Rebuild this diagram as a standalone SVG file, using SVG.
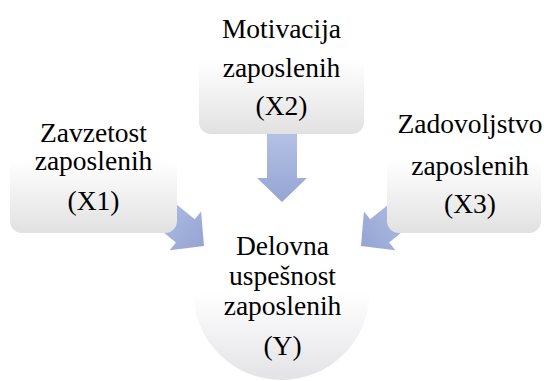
<svg xmlns="http://www.w3.org/2000/svg" width="544" height="381" viewBox="0 0 544 381">
<defs>
<linearGradient id="boxg" x1="0" y1="0" x2="0" y2="1">
<stop offset="0" stop-color="#ffffff"/>
<stop offset="0.45" stop-color="#ffffff"/>
<stop offset="1" stop-color="#e1e1e1"/>
</linearGradient>
<linearGradient id="circg" x1="0" y1="0" x2="0" y2="1">
<stop offset="0" stop-color="#ffffff"/>
<stop offset="0.5" stop-color="#ffffff"/>
<stop offset="1" stop-color="#e3e3e7"/>
</linearGradient>
<linearGradient id="arrg" x1="0" y1="0" x2="0" y2="1">
<stop offset="0" stop-color="#b3c1e6"/>
<stop offset="1" stop-color="#95a4d2"/>
</linearGradient>
<polygon id="arrow" points="-15,-68 15,-68 15,-24 25,-24 0,0 -25,-24 -15,-24"/>
</defs>
<style>
.box{fill:url(#boxg);}
.arr{fill:url(#arrg);}
.t{font-family:'Liberation Serif','Times New Roman',Times,serif;font-size:27.5px;fill:#000;text-anchor:middle;}
</style>
<g id="connectors">
<use href="#arrow" class="arr" transform="translate(282,202)"/>
<use href="#arrow" class="arr" transform="translate(204,246) rotate(-51)"/>
<use href="#arrow" class="arr" transform="translate(361,246) rotate(51)"/>
</g>
<g id="nodeX1">
<rect class="box" x="10" y="100" width="167" height="133" rx="12"/>
<g class="t" font-family="Liberation Serif, serif">
<text x="93.5" y="142">Zavzetost</text>
<text x="93.5" y="170">zaposlenih</text>
<text x="93.5" y="210">(X1)</text>
</g>
</g>
<g id="nodeX2">
<rect class="box" x="199" y="0" width="165" height="134" rx="12"/>
<g class="t" font-family="Liberation Serif, serif">
<text x="281.5" y="38">Motivacija</text>
<text x="281.5" y="77">zaposlenih</text>
<text x="281.5" y="115">(X2)</text>
</g>
</g>
<g id="nodeX3">
<rect class="box" x="387" y="100" width="154" height="133" rx="12"/>
<g class="t" font-family="Liberation Serif, serif">
<text x="470" y="133">Zadovoljstvo</text>
<text x="470" y="175">zaposlenih</text>
<text x="470" y="213">(X3)</text>
</g>
</g>
<g id="nodeY">
<circle cx="281.5" cy="292" r="88" fill="url(#circg)"/>
<g class="t" font-family="Liberation Serif, serif">
<text x="282.5" y="255">Delovna</text>
<text x="282.5" y="285">uspešnost</text>
<text x="282.5" y="315">zaposlenih</text>
<text x="282.5" y="355">(Y)</text>
</g>
</g>
</svg>
